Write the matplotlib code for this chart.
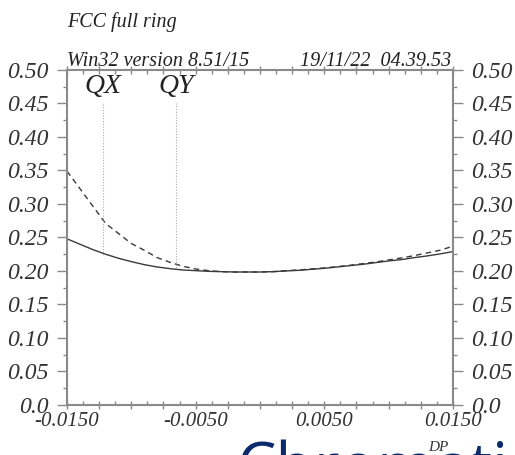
import matplotlib
matplotlib.use("Agg")
import matplotlib.pyplot as plt
from matplotlib.ticker import MultipleLocator, FixedLocator, FixedFormatter

# Momentum deviation grid and tunes (fractional parts)
dp = [-0.015, -0.014, -0.013, -0.012, -0.011, -0.010, -0.009, -0.008, -0.007,
      -0.006, -0.005, -0.004, -0.003, -0.002, -0.001, 0.000, 0.001, 0.002,
      0.003, 0.004, 0.005, 0.006, 0.007, 0.008, 0.009, 0.010, 0.011, 0.012,
      0.013, 0.014, 0.015]
qx = [0.248, 0.240, 0.232, 0.225, 0.219, 0.214, 0.2095, 0.206, 0.2035,
      0.2015, 0.2005, 0.1995, 0.199, 0.1985, 0.1985, 0.1985, 0.199, 0.200,
      0.201, 0.2025, 0.204, 0.206, 0.208, 0.210, 0.2125, 0.215, 0.217,
      0.220, 0.2225, 0.2255, 0.229]
qy = [0.349, 0.323, 0.297, 0.271, 0.256, 0.241, 0.231, 0.220, 0.213,
      0.207, 0.203, 0.2005, 0.199, 0.1985, 0.1985, 0.1985, 0.199, 0.2005,
      0.2015, 0.203, 0.2045, 0.2065, 0.2085, 0.211, 0.2135, 0.2165, 0.2195,
      0.223, 0.227, 0.231, 0.237]

# Label markers: position along DP and vertical extent
marker_names = ["QX", "QY"]
marker_dp = [-0.0122, -0.0065]
marker_top = [0.452, 0.452]
marker_bottom = [0.224, 0.205]

x_tick_labels = ["-0.0150", "-0.0050", "0.0050", "0.0150"]
x_tick_values = [-0.015, -0.005, 0.005, 0.015]
y_tick_values = [0.0, 0.05, 0.10, 0.15, 0.20, 0.25, 0.30, 0.35, 0.40, 0.45, 0.50]
y_tick_labels = ["0.0", "0.05", "0.10", "0.15", "0.20", "0.25", "0.30",
                 "0.35", "0.40", "0.45", "0.50"]

title_text = "FCC full ring"
version_text = "Win32 version 8.51/15"
stamp_text = "19/11/22  04.39.53"
x_name = "DP"
banner_text = "Chromatic"

serif = ["Liberation Serif", "DejaVu Serif"]
frame_col = "#8a8a8a"
line_col = "#3a3a3a"

fig = plt.figure(figsize=(5.15, 4.55), dpi=100)
ax = fig.add_axes([0.1301, 0.1099, 0.7495, 0.7363])

# Slide heading running off the bottom edge, behind everything else
fig.text(236 / 515, -32 / 455, banner_text, fontsize=45, color="#0b2a6e",
         family=["Open Sans", "DejaVu Sans"], ha="left", va="baseline",
         zorder=0)

ax.plot(dp, qx, color=line_col, lw=1.0, ls="-")
ax.plot(dp, qy, color=line_col, lw=1.0, ls=(0, (4, 3)))

for name, x0, y0, y1 in zip(marker_names, marker_dp, marker_top, marker_bottom):
    ax.plot([x0, x0], [y1, y0], color="#aaaaaa", lw=0.8, ls=(0, (1, 1.5)))
    ax.text(x0, 0.457, name, fontsize=20, style="italic", family=serif,
            ha="center", va="bottom", color="#222222")

ax.set_xlim(-0.015, 0.015)
ax.set_ylim(0.0, 0.5)

for s in ax.spines.values():
    s.set_color(frame_col)
    s.set_linewidth(1.5)

# x axis: ticks on bottom and top
ax.xaxis.set_major_locator(MultipleLocator(0.0025))
ax.xaxis.set_minor_locator(MultipleLocator(0.00125))
ax.tick_params(axis="x", which="major", direction="inout", length=6, width=1,
               color=frame_col, top=True, bottom=True, labelbottom=False)
ax.tick_params(axis="x", which="minor", direction="in", length=3, width=1,
               color=frame_col, top=True, bottom=True)

for v, lab in zip(x_tick_values, x_tick_labels):
    ax.annotate(lab, xy=(v, 0), xycoords=("data", "axes fraction"),
                xytext=(0, -5), textcoords="offset points", ha="center",
                va="top", fontsize=15, style="italic", family=serif,
                color="#333333")

# y axis: labels on both sides
ax.yaxis.set_major_locator(FixedLocator(y_tick_values))
ax.yaxis.set_major_formatter(FixedFormatter(y_tick_labels))
ax.yaxis.set_minor_locator(MultipleLocator(0.025))
ax.tick_params(axis="y", which="major", direction="out", length=7, width=1,
               color=frame_col, left=True, right=True, labelleft=True,
               labelright=True, labelsize=17, labelcolor="#333333", pad=6)
ax.tick_params(axis="y", which="minor", direction="out", length=3, width=1,
               color=frame_col, left=True, right=True)
for lab in ax.get_yticklabels():
    lab.set_family(serif)
    lab.set_style("italic")

fig.text(67 / 515, 1 - 27 / 455, title_text, fontsize=14.5, style="italic",
         family=serif, ha="left", va="baseline", color="#222222")
fig.text(67 / 515, 1 - 66 / 455, version_text, fontsize=14.5, style="italic",
         family=serif, ha="left", va="baseline", color="#222222")
fig.text(451 / 515, 1 - 66 / 455, stamp_text, fontsize=14.5, style="italic",
         family=serif, ha="right", va="baseline", color="#222222")
fig.text(438 / 515, 1 - 451 / 455, x_name, fontsize=11, style="italic",
         family=serif, ha="center", va="baseline", color="#333333", zorder=5)

fig.savefig("out.png", dpi=100)
